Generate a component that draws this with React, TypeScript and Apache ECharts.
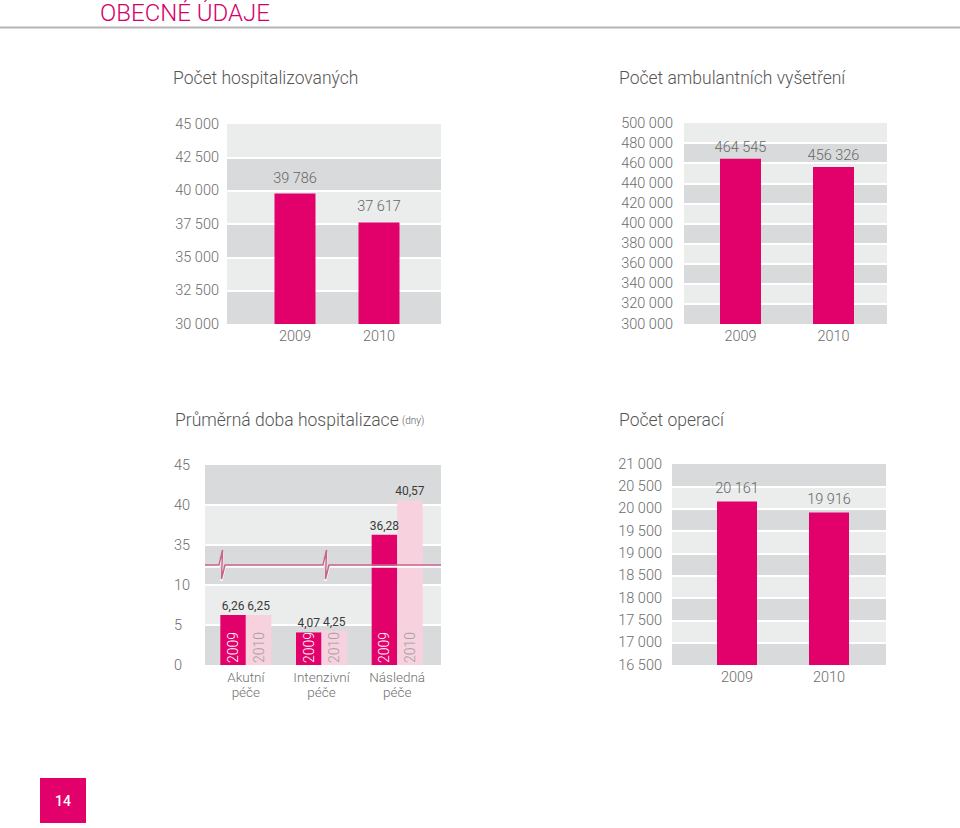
import React, { useEffect, useRef } from 'react';
import * as echarts from 'echarts';

// ---------- data ----------
const years = ['2009', '2010'];
const hospitalized = [39786, 37617];
const outpatient = [464545, 456326];
const operations = [20161, 19916];
const careTypes = ['Akutní\npéče', 'Intenzivní\npéče', 'Následná\npéče'];
const stay2009 = [6.26, 4.07, 36.28];
const stay2010 = [6.25, 4.25, 40.57];
const stayTickLabels = ['0', '5', '10', '35', '40', '45'];

// broken axis: values >= 35 are shifted down by 20 so that 10 → 35 takes one band
const BREAK_SHIFT = 20;
const compress = (v: number) => (v >= 35 ? v - BREAK_SHIFT : v);

// ---------- style ----------
const FONT = 'Roboto, "Liberation Sans", Arial, sans-serif';
const MAGENTA = '#E2006A';
const PINK = '#F8D1DF';
const BAND_DARK = '#D9DADB';
const BAND_LIGHT = '#EBECEC';
const TICK = '#6c6c6c';
const TITLE = '#555555';
const W = 300;

const fmtThousands = (v: number) => String(v).replace(/\B(?=(\d{3})+(?!\d))/g, ' ');
const fmtDecimal = (v: number) => v.toFixed(2).replace('.', ',');

type Panel = {
  bandLeft: number;
  bandWidth: number;
  barLeft: number;
  barGridWidth: number;
  top: number;
  height: number;
};

const PA: Panel = { bandLeft: 227, bandWidth: 214, barLeft: 253, barGridWidth: 168, top: 124, height: 200 };
const PB: Panel = { bandLeft: 684, bandWidth: 203, barLeft: 694, barGridWidth: 186, top: 123, height: 201 };
const PC: Panel = { bandLeft: 205, bandWidth: 236, barLeft: 208, barGridWidth: 227, top: 465, height: 200 };
const PD: Panel = { bandLeft: 672, bandWidth: 214, barLeft: 691, barGridWidth: 184, top: 464, height: 201 };

function grids(p: Panel) {
  return [
    { left: p.bandLeft, top: p.top, width: p.bandWidth, height: p.height, outerBoundsMode: 'none' },
    { left: p.barLeft, top: p.top, width: p.barGridWidth, height: p.height, outerBoundsMode: 'none' },
  ];
}

function bandY(gridIndex: number, min: number, max: number, interval: number, margin: number, formatter: any, align?: string) {
  return {
    type: 'value',
    gridIndex,
    min,
    max,
    interval,
    axisLine: { show: false },
    axisTick: { show: false },
    axisLabel: {
      show: true,
      margin,
      color: TICK,
      fontSize: 14.5,
      fontWeight: W,
      fontFamily: FONT,
      formatter,
      showMinLabel: true,
      showMaxLabel: true,
      ...(align ? { align } : {}),
    },
    splitLine: { show: true, showMinLine: false, showMaxLine: false, lineStyle: { color: '#ffffff', width: 2 } },
    splitArea: { show: true, areaStyle: { color: [BAND_DARK, BAND_LIGHT] } },
  };
}

function hiddenY(gridIndex: number, min: number, max: number) {
  return { type: 'value', gridIndex, min, max, show: false, splitLine: { show: false } };
}

function hiddenBandX(gridIndex: number) {
  return { type: 'value', gridIndex, min: 0, max: 1, show: false, splitLine: { show: false } };
}

function catX(gridIndex: number, data: string[], margin: number, fontSize = 14.5, color = TICK, lineHeight?: number) {
  return {
    type: 'category',
    gridIndex,
    data,
    axisLine: { show: false },
    axisTick: { show: false },
    splitLine: { show: false },
    axisLabel: {
      color,
      fontSize,
      fontWeight: W,
      fontFamily: FONT,
      margin,
      interval: 0,
      ...(lineHeight ? { lineHeight } : {}),
    },
  };
}

function simpleBar(xAxisIndex: number, yAxisIndex: number, data: number[], barWidth: number, distance: number) {
  return {
    type: 'bar',
    xAxisIndex,
    yAxisIndex,
    data,
    barWidth,
    clip: true,
    silent: true,
    itemStyle: { color: MAGENTA },
    label: {
      show: true,
      position: 'top',
      distance,
      color: '#666666',
      fontSize: 14.5,
      fontWeight: W,
      fontFamily: FONT,
      formatter: (p: any) => fmtThousands(p.value),
    },
  };
}

function stayBar(name: string, data: number[], color: string) {
  return {
    type: 'bar',
    name,
    xAxisIndex: 5,
    yAxisIndex: 5,
    data: data.map(compress),
    barWidth: 25.5,
    barGap: 0,
    silent: true,
    itemStyle: { color },
    label: {
      show: true,
      position: 'top',
      distance: 3,
      color: '#3a3a3a',
      fontSize: 12,
      fontFamily: FONT,
      formatter: (p: any) => fmtDecimal(data[p.dataIndex]),
    },
  };
}

function yearLabelBar(name: string, data: number[], color: string) {
  return {
    type: 'bar',
    name,
    xAxisIndex: 6,
    yAxisIndex: 5,
    data: data.map(compress),
    barWidth: 25.5,
    barGap: 0,
    z: 5,
    silent: true,
    itemStyle: { color: 'rgba(0,0,0,0)' },
    label: {
      show: true,
      position: 'insideBottom',
      rotate: 90,
      align: 'left',
      verticalAlign: 'middle',
      distance: 2,
      color,
      fontSize: 14,
      fontWeight: W,
      fontFamily: FONT,
      formatter: '{a}',
    },
  };
}

function buildOption() {
  const breakY = PC.top + PC.height * (1 - 12.5 / 25);
  const x0 = PC.bandLeft;
  const x1 = PC.bandLeft + PC.bandWidth;
  const zig = (xa: number) => [
    [xa - 3, breakY],
    [xa + 0.5, breakY - 15],
    [xa - 0.5, breakY + 14],
    [xa + 3, breakY],
  ];
  const breakPts = [[x0, breakY], ...zig(222), ...zig(326), [x1, breakY]];
  const breakPtsWhite = breakPts.map(([x, y]) => [x, y + 1.8]);

  const titleText = (text: string, x: number, y: number) => ({
    type: 'text',
    x,
    y,
    style: { text, fill: TITLE, font: `${W} 17.5px ${FONT}`, verticalAlign: 'middle' },
  });

  return {
    animation: false,
    backgroundColor: '#ffffff',
    grid: [...grids(PA), ...grids(PB), ...grids(PC), ...grids(PD)],
    xAxis: [
      hiddenBandX(0),
      catX(1, years, 5),
      hiddenBandX(2),
      catX(3, years, 5),
      hiddenBandX(4),
      catX(5, careTypes, 4, 13.5, '#707070', 15),
      { type: 'category', gridIndex: 5, data: careTypes, show: false, position: 'top' },
      hiddenBandX(6),
      catX(7, years, 5),
    ],
    yAxis: [
      bandY(0, 30000, 45000, 2500, 8, fmtThousands),
      hiddenY(1, 30000, 45000),
      bandY(2, 300000, 500000, 20000, 11, fmtThousands),
      hiddenY(3, 300000, 500000),
      bandY(4, 0, 25, 5, 31, (t: number) => stayTickLabels[Math.round(t / 5)], 'left'),
      hiddenY(5, 0, 25),
      bandY(6, 16500, 21000, 500, 10, fmtThousands),
      hiddenY(7, 16500, 21000),
    ],
    series: [
      simpleBar(1, 1, hospitalized, 41, 8),
      simpleBar(3, 3, outpatient, 41, 4),
      simpleBar(8, 7, operations, 40, 5),
      stayBar('2009', stay2009, MAGENTA),
      stayBar('2010', stay2010, PINK),
      yearLabelBar('2009', stay2009, '#ffffff'),
      yearLabelBar('2010', stay2010, '#a0a0a0'),
    ],
    graphic: [
      {
        type: 'text',
        x: 100,
        y: 13,
        style: { text: 'OBECNÉ ÚDAJE', fill: '#D5006A', font: `${W} 24px ${FONT}`, verticalAlign: 'middle' },
      },
      {
        type: 'line',
        shape: { x1: 0, y1: 27.5, x2: 960, y2: 27.5 },
        style: { stroke: '#B5B5B5', lineWidth: 2 },
      },
      titleText('Počet hospitalizovaných', 173, 78),
      titleText('Počet ambulantních vyšetření', 619, 78),
      {
        type: 'text',
        x: 175,
        y: 420,
        style: {
          text: '{a|Průměrná doba hospitalizace} {b|(dny)}',
          verticalAlign: 'middle',
          rich: {
            a: { fill: TITLE, fontSize: 17.5, fontWeight: W, fontFamily: FONT },
            b: { fill: TITLE, fontSize: 10, fontWeight: W, fontFamily: FONT },
          },
        },
      },
      titleText('Počet operací', 619, 420),
      {
        type: 'polyline',
        z: 100,
        shape: { points: breakPtsWhite },
        style: { stroke: '#ffffff', lineWidth: 2, fill: null },
      },
      {
        type: 'polyline',
        z: 101,
        shape: { points: breakPts },
        style: { stroke: '#C8658D', lineWidth: 1.5, fill: null },
      },
      {
        type: 'rect',
        shape: { x: 40, y: 778, width: 46, height: 45 },
        style: { fill: MAGENTA },
      },
      {
        type: 'text',
        x: 63,
        y: 800.5,
        style: { text: '14', fill: '#ffffff', font: `500 14px ${FONT}`, align: 'center', verticalAlign: 'middle' },
      },
    ],
  };
}

export default function App() {
  const ref = useRef<HTMLDivElement>(null);
  useEffect(() => {
    document.body.style.margin = '0';
    const chart = echarts.init(ref.current as HTMLDivElement, undefined, { renderer: 'svg' });
    chart.setOption(buildOption() as any);
    return () => chart.dispose();
  }, []);
  return <div ref={ref} style={{ width: 960, height: 828 }} />;
}
